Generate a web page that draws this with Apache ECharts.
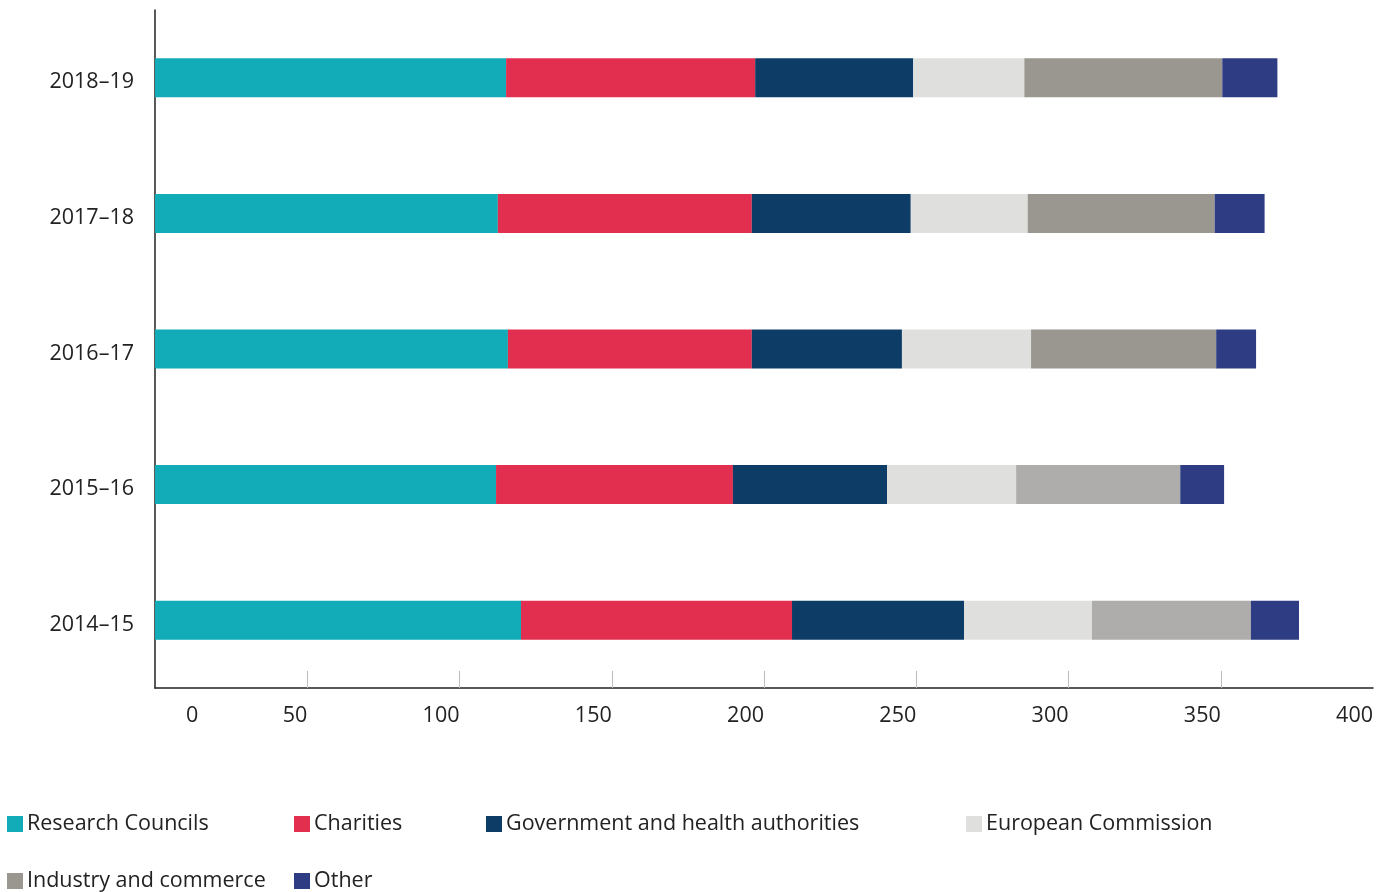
<!DOCTYPE html>
<html>
<head>
<meta charset="utf-8">
<script src="https://cdn.jsdelivr.net/npm/echarts@6/dist/echarts.min.js"></script>
<style>
  html, body { margin: 0; padding: 0; background: #fff; }
  #chart { width: 1387px; height: 892px; }
</style>
</head>
<body>
<div id="chart"></div>
<script>
// bottom to top
const years = ['2014–15', '2015–16', '2016–17', '2017–18', '2018–19']
const researchCouncils = [120.2, 112.0, 115.9, 112.6, 115.3]
const charities = [89.0, 77.8, 80.1, 83.4, 81.8]
const government = [56.5, 50.6, 49.3, 52.2, 51.9]
const europeanCommission = [42.0, 42.4, 42.4, 38.4, 36.5]
const industry = [52.2, 53.9, 60.8, 61.4, 65.0]
const other = [15.8, 14.4, 13.1, 16.4, 18.1]
const xTicks = [0, 50, 100, 150, 200, 250, 300, 350, 400]

const font = 'Open Sans'
const fs = 21.5
const chart = echarts.init(document.getElementById('chart'))

const seriesDefs = [
    { name: 'Research Councils', data: researchCouncils, color: '#12abb8' },
    { name: 'Charities', data: charities, color: '#e22f4f' },
    { name: 'Government and health authorities', data: government, color: '#0d3d66' },
    { name: 'European Commission', data: europeanCommission, color: '#dfdfdd' },
    { name: 'Industry and commerce', data: industry, color: '#9a9690' },
    { name: 'Other', data: other, color: '#2e3c84' },
]

// legend slots laid out as in the source
const legendPos = [
    { left: 7, top: 813 },
    { left: 294, top: 813 },
    { left: 486, top: 813 },
    { left: 966, top: 813 },
    { left: 7, top: 870 },
    { left: 294, top: 870 },
]

const option = {
    backgroundColor: '#fff',
    animation: false,
    grid: { left: 155, right: 14, top: 10, bottom: 204, containLabel: false },
    legend: seriesDefs.map((s, i) => ({
        data: [s.name],
        left: legendPos[i].left,
        top: legendPos[i].top,
        icon: 'rect',
        itemWidth: 16,
        itemHeight: 16,
        padding: 0,
        textStyle: { fontFamily: font, fontSize: fs, color: '#222', padding: [0, 0, 0, -1] },
    })),
    xAxis: {
        type: 'value',
        min: 0,
        max: 400,
        interval: 50,
        axisLine: { show: true, lineStyle: { color: '#222', width: 1.5 } },
        axisTick: {
            show: true,
            inside: true,
            length: 17,
            customValues: xTicks.slice(1, -1), // no tick on the ends
            lineStyle: { color: '#bbb', width: 1 },
        },
        splitLine: { show: false },
        axisLabel: {
            fontFamily: font,
            fontSize: fs,
            color: '#222',
            margin: 17,
            align: 'right',
            alignMinLabel: 'left',
            formatter: (v) => (v === xTicks[0] ? '{z|' + v + '}' : String(v)),
            rich: { z: { fontFamily: font, fontSize: fs, color: '#222', padding: [0, 0, 0, 31] } },
        },
    },
    yAxis: {
        type: 'category',
        data: years,
        axisLine: { show: true, lineStyle: { color: '#222', width: 1.5 } },
        axisTick: { show: false },
        axisLabel: {
            margin: 21,
            formatter: (v) => '{y|' + v + '}',
            rich: { y: { fontFamily: font, fontSize: fs, color: '#222', padding: [9, 0, 0, 0] } },
        },
    },
    series: seriesDefs.map((s) => ({
        name: s.name,
        type: 'bar',
        stack: 'total',
        barWidth: 39,
        itemStyle: { color: s.color },
        data: s.data.map((v, i) => {
            // lighter industry shade for the two earliest years
            if (s.name === 'Industry and commerce' && i < 2) {
                return { value: v, itemStyle: { color: '#aeadab' } }
            }
            return v
        }),
    })),
}

chart.setOption(option)
</script>
</body>
</html>
